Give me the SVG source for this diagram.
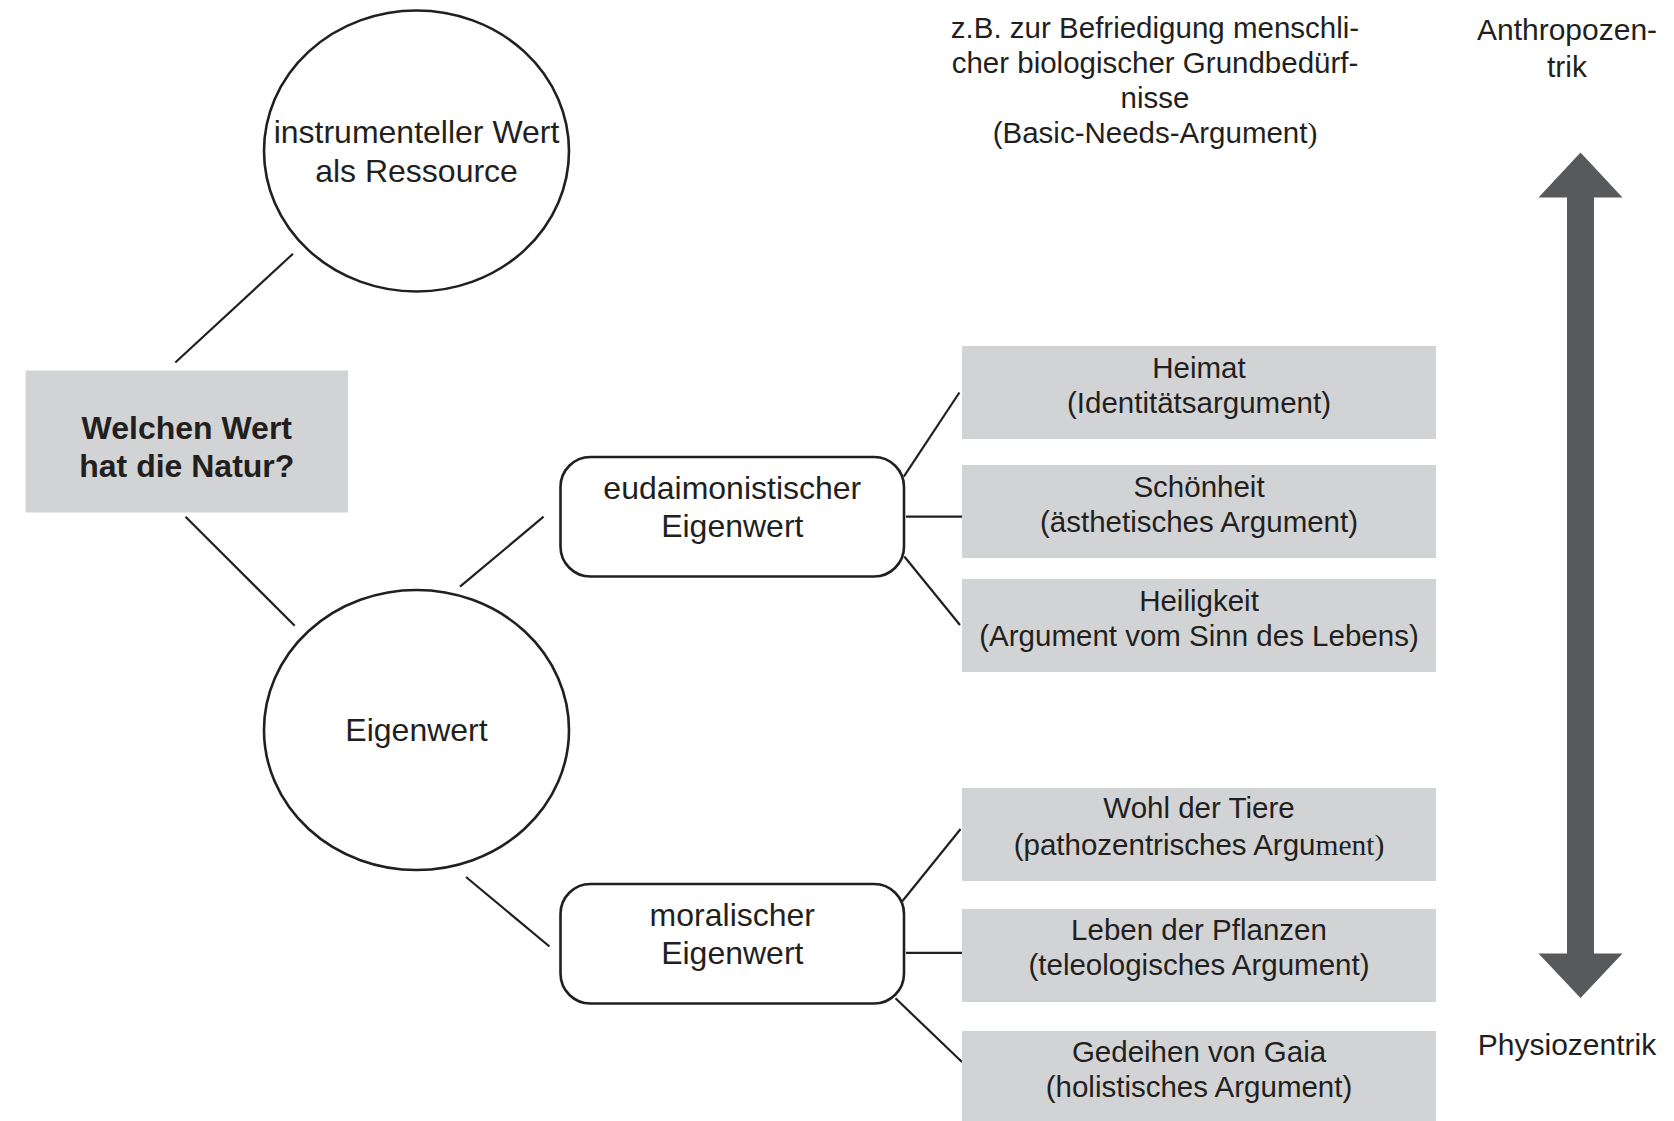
<svg xmlns="http://www.w3.org/2000/svg" width="1674" height="1121" viewBox="0 0 1674 1121">
<style>
.t{font-family:"Liberation Sans",Arial,sans-serif;fill:#231f20;text-anchor:middle}
.n{font-size:32px}
.g{font-size:29.5px}
.b{font-weight:bold}
.serif{font-family:"Liberation Serif","Times New Roman",serif}
.edge{stroke:#231f20;stroke-width:2.2;fill:none}
.shape{fill:#ffffff;stroke:#231f20;stroke-width:2.6}
.gray{fill:#d1d3d4}
</style>
<rect width="1674" height="1121" fill="#ffffff"/>
<g id="connectors">
<line class="edge" x1="175.3" y1="362.5" x2="293" y2="253.8"/>
<line class="edge" x1="185.5" y1="516.7" x2="294.7" y2="625.8"/>
<line class="edge" x1="460" y1="586.7" x2="543.6" y2="516.7"/>
<line class="edge" x1="466" y1="877" x2="549.5" y2="946.5"/>
<line class="edge" x1="903.8" y1="476.7" x2="959.4" y2="392.5"/>
<line class="edge" x1="906" y1="516.7" x2="962" y2="516.7"/>
<line class="edge" x1="904.3" y1="556.5" x2="960" y2="625"/>
<line class="edge" x1="902.5" y1="901" x2="960.6" y2="829"/>
<line class="edge" x1="906" y1="952.8" x2="962" y2="952.8"/>
<line class="edge" x1="895.5" y1="998.3" x2="962" y2="1062"/>
</g>
<g id="title">
<rect class="gray" x="25.6" y="370.5" width="322.4" height="142"/>
<text class="t b n" x="186.8" y="438.6">Welchen Wert</text>
<text class="t b n" x="186.8" y="476.8">hat die Natur?</text>
</g>
<g id="instrumentell">
<ellipse class="shape" cx="416.5" cy="151" rx="152.5" ry="140.5"/>
<text class="t n" x="416.5" y="143">instrumenteller Wert</text>
<text class="t n" x="416.5" y="182">als Ressource</text>
</g>
<g id="eigenwert">
<ellipse class="shape" cx="416.5" cy="730" rx="152.5" ry="140"/>
<text class="t n" x="416.5" y="741">Eigenwert</text>
</g>
<g id="eudaimonistisch">
<rect class="shape" x="560.5" y="457" width="343.5" height="119.5" rx="30" ry="30"/>
<text class="t n" x="732.3" y="498.5">eudaimonistischer</text>
<text class="t n" x="732.3" y="537">Eigenwert</text>
</g>
<g id="moralisch">
<rect class="shape" x="560.5" y="884" width="343.5" height="119.5" rx="30" ry="30"/>
<text class="t n" x="732.3" y="925.7">moralischer</text>
<text class="t n" x="732.3" y="963.5">Eigenwert</text>
</g>
<g id="heimat">
<rect class="gray" x="962" y="346" width="474" height="93"/>
<text class="t g" x="1199" y="378">Heimat</text>
<text class="t g" x="1199" y="413">(Identitätsargument)</text>
</g>
<g id="schoenheit">
<rect class="gray" x="962" y="465" width="474" height="93"/>
<text class="t g" x="1199" y="497">Schönheit</text>
<text class="t g" x="1199" y="532">(ästhetisches Argument)</text>
</g>
<g id="heiligkeit">
<rect class="gray" x="962" y="579" width="474" height="93"/>
<text class="t g" x="1199" y="610.5">Heiligkeit</text>
<text class="t g" x="1199" y="645.5">(Argument vom Sinn des Lebens)</text>
</g>
<g id="tiere">
<rect class="gray" x="962" y="788" width="474" height="93"/>
<text class="t g" x="1199" y="818">Wohl der Tiere</text>
<text class="t g" x="1199" y="855">(pathozentrisches Argu<tspan class="serif">ment)</tspan></text>
</g>
<g id="pflanzen">
<rect class="gray" x="962" y="909" width="474" height="93"/>
<text class="t g" x="1199" y="939.5">Leben der Pflanzen</text>
<text class="t g" x="1199" y="975">(teleologisches Argument)</text>
</g>
<g id="gaia">
<rect class="gray" x="962" y="1031" width="474" height="93"/>
<text class="t g" x="1199" y="1061.5">Gedeihen von Gaia</text>
<text class="t g" x="1199" y="1097">(holistisches Argument)</text>
</g>
<g id="basic-needs">
<text class="t g" x="1155" y="38">z.B. zur Befriedigung menschli-</text>
<text class="t g" x="1155" y="73">cher biologischer Grundbedürf-</text>
<text class="t g" x="1155" y="108">nisse</text>
<text class="t g" x="1155" y="143">(Basic-Needs-Argument<tspan class="serif">)</tspan></text>
</g>
<g id="scale">
<polygon fill="#58595b" points="1580.5,152.5 1622.5,197.5 1594,197.5 1594,953.5 1622.5,953.5 1580.5,998 1538.5,953.5 1567,953.5 1567,197.5 1538.5,197.5"/>
<text class="t" style="font-size:30px" x="1567" y="40">Anthropozen-</text>
<text class="t" style="font-size:30px" x="1567" y="77">trik</text>
<text class="t" style="font-size:30px" x="1567" y="1055">Physiozentrik</text>
</g>
</svg>
